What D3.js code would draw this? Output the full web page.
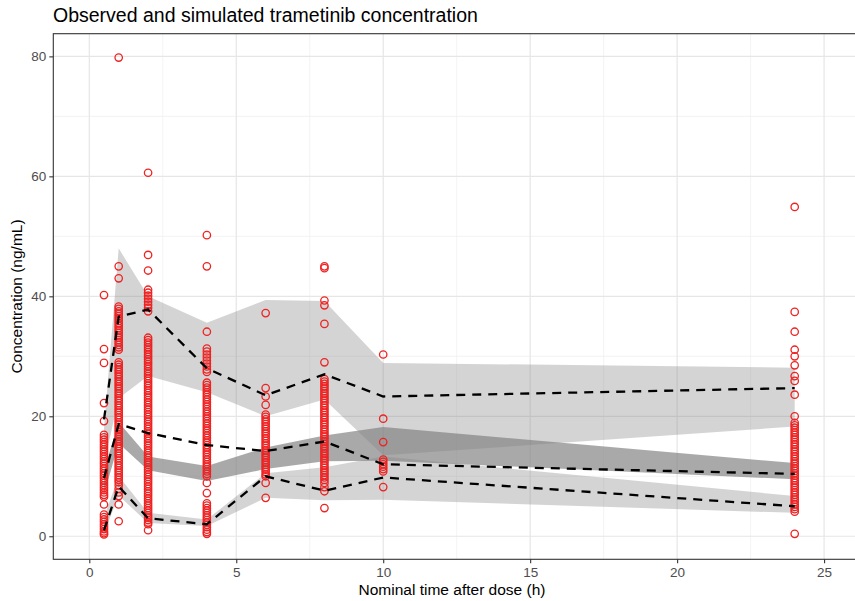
<!DOCTYPE html>
<html>
<head>
<meta charset="utf-8">
<script src="https://cdn.jsdelivr.net/npm/d3@7"></script>
<style>
  body { margin: 0; background: #fff; }
  svg text { font-family: "Liberation Sans", Arial, sans-serif; }
</style>
</head>
<body>
<div id="chart"></div>
<script>
// nominal sampling times (h)
var times = [0.5, 1, 2, 4, 6, 8, 10, 24];

// observed percentiles (dashed lines)
var obsP05 = [1.0, 8.3, 3.0, 2.0, 10.0, 7.6, 9.8, 5.0];
var obsP50 = [9.7, 18.7, 17.2, 15.2, 14.2, 15.8, 12.0, 10.4];
var obsP95 = [19.5, 36.6, 37.8, 28.0, 23.5, 27.0, 23.3, 24.7];

// simulated confidence intervals of the percentiles (shaded bands)
var ciP05Lo = [0.5, 6.8, 2.2, 1.7, 6.4, 6.0, 6.1, 3.9];
var ciP05Hi = [3.2, 10.0, 3.9, 2.8, 10.5, 11.5, 13.3, 6.7];
var ciP50Lo = [7.0, 15.5, 11.0, 9.2, 11.2, 12.5, 12.6, 9.5];
var ciP50Hi = [11.0, 19.0, 13.3, 11.7, 14.8, 16.8, 18.2, 12.2];
var ciP95Lo = [12.0, 23.0, 26.7, 24.0, 20.0, 22.8, 13.5, 18.3];
var ciP95Hi = [18.0, 48.0, 40.0, 35.6, 39.4, 39.2, 28.9, 28.1];

// observed concentrations (ng/mL) per nominal time
var conc05 = [40.2, 31.2, 28.9, 22.2, 19.2, 16.9, 16.5, 16.1, 15.7, 15.3, 14.9, 14.5, 14.1, 13.7, 13.3, 12.9, 12.5, 12.1, 11.7, 11.3, 10.9, 10.5, 10.1, 9.7, 9.3, 8.9, 8.5, 8.1, 7.7, 7.3, 6.9, 6.6, 5.3, 3.6, 3.2, 2.8, 2.4, 2.0, 1.6, 1.2, 0.8, 0.5, 0.3];
var conc1 = [79.8, 45.0, 43.0, 38.3, 37.9, 37.5, 37.1, 36.7, 36.3, 35.9, 35.5, 35.1, 34.7, 34.3, 33.9, 33.5, 33.1, 32.7, 32.3, 31.9, 31.5, 31.1, 29.0, 28.6, 28.2, 27.8, 27.4, 27.0, 26.6, 26.2, 25.8, 25.4, 25.0, 24.6, 24.2, 23.8, 23.4, 23.0, 22.6, 22.2, 21.8, 21.4, 21.0, 20.6, 20.2, 19.8, 19.4, 19.0, 18.6, 18.2, 17.8, 17.4, 17.0, 16.6, 16.2, 15.8, 15.4, 15.0, 14.6, 14.2, 13.8, 13.4, 13.0, 12.6, 12.2, 11.8, 11.4, 11.0, 10.6, 10.2, 9.8, 9.4, 9.0, 8.5, 7.9, 7.3, 6.7, 5.3, 2.5];
var conc2 = [60.6, 46.9, 44.3, 41.1, 40.6, 40.1, 39.6, 39.1, 38.6, 38.1, 37.5, 33.1, 32.7, 32.3, 31.9, 31.5, 31.1, 30.7, 30.3, 29.9, 29.5, 29.1, 28.7, 28.3, 27.9, 27.5, 27.1, 26.7, 26.3, 25.9, 25.5, 25.1, 24.7, 24.3, 23.9, 23.5, 23.1, 22.7, 22.3, 21.9, 21.5, 21.1, 20.7, 20.3, 19.9, 19.5, 19.1, 18.7, 18.3, 17.9, 17.5, 17.1, 16.7, 16.3, 15.9, 15.5, 15.1, 14.7, 14.3, 13.9, 13.5, 13.1, 12.7, 12.3, 11.9, 11.5, 11.1, 10.7, 10.3, 9.9, 9.5, 9.1, 8.7, 8.3, 7.9, 7.5, 7.1, 6.7, 6.3, 5.9, 5.5, 5.1, 4.7, 4.3, 3.9, 3.5, 3.1, 2.7, 2.3, 2.0, 1.0];
var conc4 = [50.2, 45.0, 34.1, 31.3, 30.8, 30.3, 29.8, 29.3, 28.8, 28.3, 27.8, 27.4, 25.6, 25.2, 24.8, 24.4, 24.0, 23.6, 23.2, 22.8, 22.4, 22.0, 21.6, 21.2, 20.8, 20.4, 20.0, 19.6, 19.2, 18.8, 18.4, 18.0, 17.6, 17.2, 16.8, 16.4, 16.0, 15.6, 15.2, 14.8, 14.4, 14.0, 13.6, 13.2, 12.8, 12.4, 12.0, 11.6, 11.2, 10.8, 10.4, 10.0, 8.9, 7.2, 5.5, 5.1, 4.7, 4.3, 3.9, 3.5, 3.1, 2.7, 2.3, 1.9, 1.5, 1.1, 0.7, 0.4];
var conc6 = [37.2, 24.7, 23.3, 21.9, 20.3, 19.9, 19.5, 19.1, 18.7, 18.3, 17.9, 17.5, 17.1, 16.7, 16.3, 15.9, 15.5, 15.1, 14.7, 14.3, 13.9, 13.5, 13.1, 12.7, 12.3, 11.9, 11.5, 11.1, 10.7, 10.3, 10.0, 8.9, 6.4];
var conc8 = [45.0, 44.7, 39.3, 38.5, 35.4, 29.0, 26.2, 25.8, 25.4, 25.0, 24.6, 24.2, 23.8, 23.4, 23.0, 22.6, 22.2, 21.8, 21.4, 21.0, 20.6, 20.2, 19.8, 19.4, 19.0, 18.6, 18.2, 17.8, 17.4, 17.0, 16.6, 16.2, 15.8, 15.4, 15.0, 14.6, 14.2, 13.8, 13.4, 13.0, 12.6, 12.2, 11.8, 11.4, 11.0, 10.6, 10.2, 9.8, 9.4, 8.9, 8.2, 7.5, 4.7];
var conc10 = [30.3, 19.6, 15.7, 12.8, 12.4, 12.0, 11.6, 11.2, 10.8, 8.2];
var conc24 = [54.9, 37.4, 34.1, 31.1, 30.0, 28.5, 26.7, 25.9, 23.6, 20.0, 18.9, 18.5, 18.1, 17.7, 17.3, 16.9, 16.5, 16.1, 15.7, 15.3, 14.9, 14.5, 14.1, 13.7, 13.3, 12.9, 12.5, 12.1, 11.7, 11.3, 10.9, 10.5, 10.1, 9.7, 9.3, 8.9, 8.5, 8.1, 7.7, 7.3, 6.9, 6.5, 6.1, 5.7, 5.3, 4.9, 4.5, 4.1, 0.4];

var xTicks = [0, 5, 10, 15, 20, 25];
var yTicks = [0, 20, 40, 60, 80];

//define chart area
var svgWidth = 855;
var svgHeight = 601;

var svg = d3.select("#chart").append("svg")
    .attr("width", svgWidth)
    .attr("height", svgHeight);

var panel = {left: 53.3, right: 857, top: 33.7, bottom: 559.3};

var x = d3.scaleLinear().domain([-1.225, 26.12]).range([panel.left, panel.right]);
var y = d3.scaleLinear().domain([-3.84, 83.78]).range([panel.bottom, panel.top]);

// gridlines
var grid = svg.append("g");
var xMinor = [2.5, 7.5, 12.5, 17.5, 22.5];
var yMinor = [10, 30, 50, 70];

grid.selectAll(".xminor").data(xMinor).enter().append("line")
    .attr("x1", d => x(d)).attr("x2", d => x(d))
    .attr("y1", panel.top).attr("y2", panel.bottom)
    .attr("stroke", "#f0f0f0").attr("stroke-width", 0.8);
grid.selectAll(".yminor").data(yMinor).enter().append("line")
    .attr("y1", d => y(d)).attr("y2", d => y(d))
    .attr("x1", panel.left).attr("x2", panel.right)
    .attr("stroke", "#f0f0f0").attr("stroke-width", 0.8);
grid.selectAll(".xmajor").data(xTicks).enter().append("line")
    .attr("x1", d => x(d)).attr("x2", d => x(d))
    .attr("y1", panel.top).attr("y2", panel.bottom)
    .attr("stroke", "#e6e6e6").attr("stroke-width", 1.2);
grid.selectAll(".ymajor").data(yTicks).enter().append("line")
    .attr("y1", d => y(d)).attr("y2", d => y(d))
    .attr("x1", panel.left).attr("x2", panel.right)
    .attr("stroke", "#e6e6e6").attr("stroke-width", 1.2);

// shaded bands
function bandArea(lo, hi) {
    var rows = times.map((t, i) => ({t: t, lo: lo[i], hi: hi[i]}));
    return d3.area()
        .x(d => x(d.t))
        .y0(d => y(d.lo))
        .y1(d => y(d.hi))(rows);
}

svg.append("path").attr("d", bandArea(ciP50Lo, ciP50Hi))
    .attr("fill", "#808080").attr("fill-opacity", 0.68);
svg.append("path").attr("d", bandArea(ciP95Lo, ciP95Hi))
    .attr("fill", "#808080").attr("fill-opacity", 0.34);
svg.append("path").attr("d", bandArea(ciP05Lo, ciP05Hi))
    .attr("fill", "#808080").attr("fill-opacity", 0.34);

// observed points
var obsSets = [
    [0.5, conc05], [1, conc1], [2, conc2], [4, conc4],
    [6, conc6], [8, conc8], [10, conc10], [24, conc24]
];
var points = [];
obsSets.forEach(function(s) {
    s[1].forEach(function(c) { points.push({t: s[0], c: c}); });
});

svg.append("g").selectAll("circle")
    .data(points)
    .enter()
    .append("circle")
    .attr("cx", d => x(d.t))
    .attr("cy", d => y(d.c))
    .attr("r", 3.7)
    .attr("fill", "none")
    .attr("stroke", "#ee2222")
    .attr("stroke-width", 1.3);

// observed percentile lines
var line = d3.line().x(d => x(d[0])).y(d => y(d[1]));
[obsP05, obsP50, obsP95].forEach(function(p) {
    svg.append("path")
        .attr("d", line(times.map((t, i) => [t, p[i]])))
        .attr("fill", "none")
        .attr("stroke", "#000")
        .attr("stroke-width", 2.3)
        .attr("stroke-dasharray", "9,7");
});

// panel border
svg.append("rect")
    .attr("x", panel.left).attr("y", panel.top)
    .attr("width", panel.right - panel.left)
    .attr("height", panel.bottom - panel.top)
    .attr("fill", "none")
    .attr("stroke", "#333")
    .attr("stroke-width", 1.1);

// axes
var bottomAxis = d3.axisBottom(x).tickValues(xTicks).tickSize(4).tickPadding(4);
var leftAxis = d3.axisLeft(y).tickValues(yTicks).tickSize(4).tickPadding(3);

var gx = svg.append("g")
    .attr("transform", `translate(0, ${panel.bottom})`)
    .call(bottomAxis);
var gy = svg.append("g")
    .attr("transform", `translate(${panel.left}, 0)`)
    .call(leftAxis);

[gx, gy].forEach(function(g) {
    g.select(".domain").remove();
    g.selectAll("line").attr("stroke", "#333").attr("stroke-width", 1.1);
    g.selectAll("text").attr("fill", "#4d4d4d").attr("font-size", 13.5);
});

// titles
svg.append("text")
    .attr("x", 53)
    .attr("y", 22)
    .attr("font-size", 19.5)
    .attr("fill", "#000")
    .text("Observed and simulated trametinib concentration");

svg.append("text")
    .attr("transform", "rotate(-90)")
    .attr("x", -(panel.top + panel.bottom) / 2)
    .attr("y", 22)
    .attr("text-anchor", "middle")
    .attr("font-size", 15.5)
    .attr("fill", "#000")
    .text("Concentration (ng/mL)");

svg.append("text")
    .attr("x", 452)
    .attr("y", 595)
    .attr("text-anchor", "middle")
    .attr("font-size", 15.5)
    .attr("fill", "#000")
    .text("Nominal time after dose (h)");
</script>
</body>
</html>
